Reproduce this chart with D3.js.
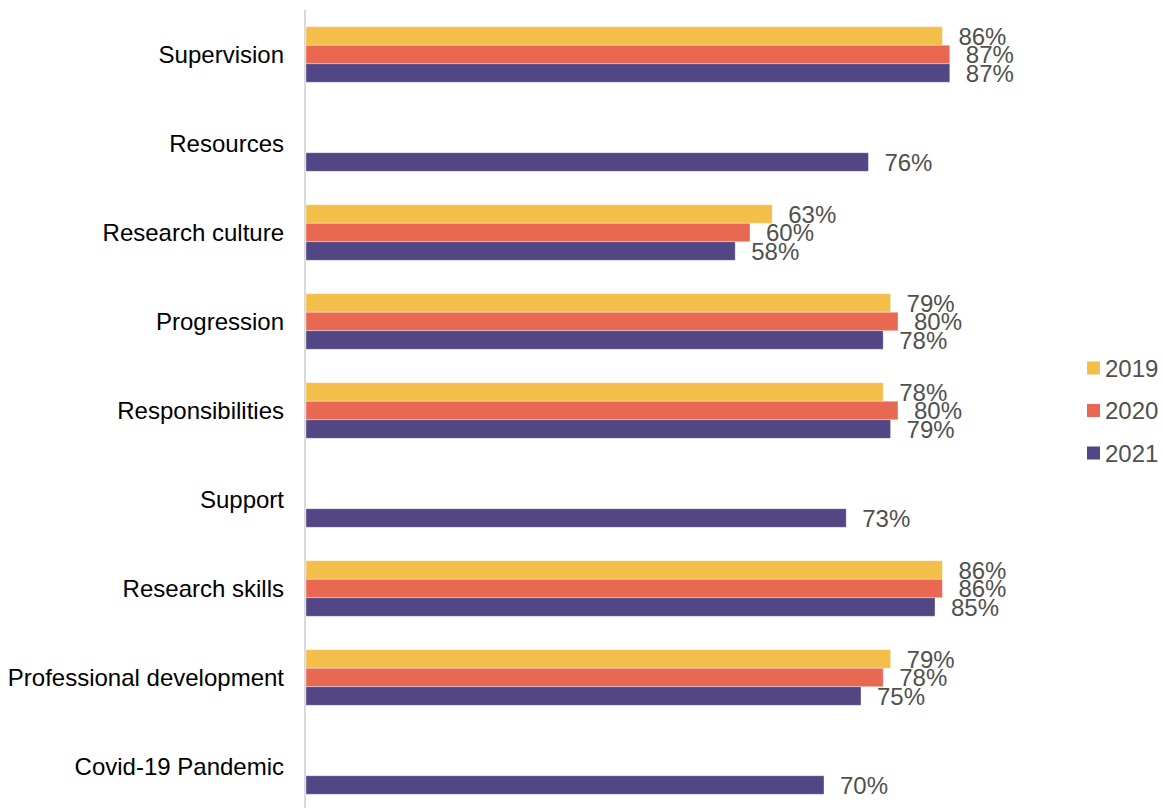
<!DOCTYPE html>
<html>
<head>
<meta charset="utf-8">
<script src="https://cdn.jsdelivr.net/npm/d3@7"></script>
<style>
  html, body { margin: 0; padding: 0; background: #fff; }
  svg { display: block; font-family: "Liberation Sans", Arial, sans-serif; }
</style>
</head>
<body>
<svg id="chart" width="1163" height="808"></svg>
<script>
// Survey areas, top to bottom
const categories = [
  "Supervision",
  "Resources",
  "Research culture",
  "Progression",
  "Responsibilities",
  "Support",
  "Research skills",
  "Professional development",
  "Covid-19 Pandemic"
];

const years = ["2019", "2020", "2021"];

// Percentage agreeing, per year (null = area not asked that year)
const values2019 = [86, null, 63, 79, 78, null, 86, 79, null];
const values2020 = [87, null, 60, 80, 80, null, 86, 78, null];
const values2021 = [87, 76, 58, 78, 79, 73, 85, 75, 70];

const colors = ["#F4BE4B", "#E96851", "#534685"];

const series = [values2019, values2020, values2021];

const svg = d3.select("#chart");

const x = d3.scaleLinear().domain([0, 100]).range([306, 1046]);

const y0 = d3.scaleBand()
  .domain(categories)
  .range([10, 811])
  .paddingInner(0.376)
  .paddingOuter(0.188);

const y1 = d3.scaleBand()
  .domain(years)
  .range([0, y0.bandwidth()]);

const color = d3.scaleOrdinal().domain(years).range(colors);

// Flatten into one record per bar
const bars = [];
categories.forEach((cat, i) => {
  years.forEach((yr, j) => {
    const v = series[j][i];
    if (v != null) bars.push({ cat, yr, v });
  });
});

// Vertical category axis line
svg.append("line")
  .attr("x1", 305).attr("x2", 305)
  .attr("y1", 10).attr("y2", 808)
  .attr("stroke", "#d9d9d9")
  .attr("stroke-width", 2);

// Bars
svg.append("g").selectAll("rect")
  .data(bars)
  .join("rect")
  .attr("x", x(0))
  .attr("y", d => y0(d.cat) + y1(d.yr))
  .attr("width", d => x(d.v) - x(0))
  .attr("height", y1.bandwidth())
  .attr("fill", d => color(d.yr))
  .attr("stroke", "#ffffff")
  .attr("stroke-opacity", 0.45)
  .attr("stroke-width", 0.8);

// Value labels
svg.append("g").selectAll("text")
  .data(bars)
  .join("text")
  .attr("x", d => x(d.v) + 16)
  .attr("y", d => y0(d.cat) + y1(d.yr) + y1.bandwidth() / 2)
  .attr("dy", "0.36em")
  .attr("font-size", 24)
  .attr("fill", "#505050")
  .text(d => d.v + "%");

// Category labels
svg.append("g").selectAll("text")
  .data(categories)
  .join("text")
  .attr("x", 284)
  .attr("y", d => y0(d) + y0.bandwidth() / 2)
  .attr("dy", "0.36em")
  .attr("text-anchor", "end")
  .attr("font-size", 24)
  .attr("fill", "#000")
  .text(d => d);

// Legend
const legend = svg.append("g").selectAll("g")
  .data(years)
  .join("g")
  .attr("transform", (d, i) => `translate(1087, ${368 + i * 42.5})`);

legend.append("rect")
  .attr("x", 0)
  .attr("y", -6.5)
  .attr("width", 13)
  .attr("height", 13)
  .attr("fill", d => color(d));

legend.append("text")
  .attr("x", 18)
  .attr("y", 0)
  .attr("dy", "0.36em")
  .attr("font-size", 24)
  .attr("fill", "#505050")
  .text(d => d);
</script>
</body>
</html>
